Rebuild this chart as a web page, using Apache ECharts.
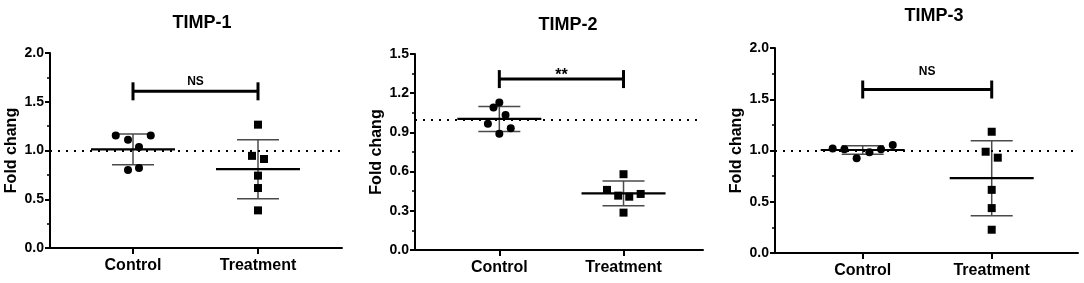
<!DOCTYPE html>
<html>
<head>
<meta charset="utf-8">
<script src="https://cdn.jsdelivr.net/npm/echarts@6/dist/echarts.min.js"></script>
<style>
  html, body { margin: 0; padding: 0; background: #fff; }
  #chart { width: 1084px; height: 283px; }
</style>
</head>
<body>
<div id="chart"></div>
<script>
// ---- data ----
var groups = ['Control', 'Treatment'];
var titles = ['TIMP-1', 'TIMP-2', 'TIMP-3'];

var timp1Control = [1.155, 1.11, 1.155, 1.035, 0.80, 0.82];
var timp1ControlJitter = [-0.138, -0.04, 0.142, 0.048, -0.04, 0.048];
var timp1Treatment = [1.265, 0.945, 0.913, 0.742, 0.615, 0.386];
var timp1TreatmentJitter = [0, -0.048, 0.048, 0, 0, 0];
var timp1Mean = [1.012, 0.808];
var timp1Sd = [0.158, 0.303];

var timp2Control = [1.129, 1.09, 1.034, 0.966, 0.932, 0.889];
var timp2ControlJitter = [0, -0.047, 0.05, -0.092, 0.092, 0];
var timp2Treatment = [0.58, 0.46, 0.416, 0.408, 0.429, 0.286];
var timp2TreatmentJitter = [0, -0.133, -0.043, 0.046, 0.138, 0];
var timp2Mean = [1.003, 0.434];
var timp2Sd = [0.096, 0.095];

var timp3Control = [1.02, 1.012, 0.924, 0.982, 1.012, 1.053];
var timp3ControlJitter = [-0.233, -0.142, -0.047, 0.052, 0.142, 0.233];
var timp3Treatment = [1.183, 0.988, 0.93, 0.616, 0.438, 0.227];
var timp3TreatmentJitter = [0, -0.047, 0.047, 0, 0, 0];
var timp3Mean = [1.005, 0.73];
var timp3Sd = [0.042, 0.366];

var yMax = [2.0, 1.5, 2.0];
var yStep = [0.5, 0.3, 0.5];
var refLine = 1.0;

// significance bars: [from, to, height, label height]
var sigBars = [[1, 2, 1.607, 1.705], [1, 2, 1.308, 1.337], [1, 2, 1.595, 1.767]];
var sigText = ['NS', '**', 'NS'];

// ---- layout ----
var grids = [
    { left: 50, top: 53, width: 292, height: 195 },
    { left: 415, top: 54, width: 288, height: 196 },
    { left: 775, top: 48, width: 303, height: 205 }
];
var xRange = [[0.336, 2.672], [0.321, 2.64], [0.32, 2.669]];
var titlePos = [[197, 9], [563, 11], [929, 2]];

var FONT = '"Liberation Sans", Arial, sans-serif';

function renderErr(params, api) {
    var c = api.coord([api.value(0), api.value(1)]);
    var hi = api.coord([api.value(0), api.value(1) + api.value(2)]);
    var lo = api.coord([api.value(0), api.value(1) - api.value(2)]);
    var sdStyle = { stroke: '#4a4a4a', lineWidth: 1.5 };
    return {
        type: 'group',
        children: [
            { type: 'line', shape: { x1: c[0], y1: hi[1], x2: c[0], y2: lo[1] }, style: sdStyle },
            { type: 'line', shape: { x1: c[0] - 21, y1: hi[1], x2: c[0] + 21, y2: hi[1] }, style: sdStyle },
            { type: 'line', shape: { x1: c[0] - 21, y1: lo[1], x2: c[0] + 21, y2: lo[1] }, style: sdStyle },
            { type: 'line', shape: { x1: c[0] - 42, y1: c[1], x2: c[0] + 42, y2: c[1] }, style: { stroke: '#000', lineWidth: 2.2 } }
        ]
    };
}

function renderSig(params, api) {
    var a = api.coord([api.value(0), api.value(2)]);
    var b = api.coord([api.value(1), api.value(2)]);
    var t = api.coord([(api.value(0) + api.value(1)) / 2, api.value(3)]);
    var st = { stroke: '#000', lineWidth: 3 };
    var txt = sigText[params.seriesIndex / 4 | 0];
    return {
        type: 'group',
        children: [
            { type: 'line', shape: { x1: a[0], y1: a[1], x2: b[0], y2: b[1] }, style: st },
            { type: 'line', shape: { x1: a[0], y1: a[1] - 9, x2: a[0], y2: a[1] + 9 }, style: st },
            { type: 'line', shape: { x1: b[0], y1: b[1] - 9, x2: b[0], y2: b[1] + 9 }, style: st },
            { type: 'text', x: t[0], y: t[1], style: {
                text: txt, fill: '#000',
                font: 'bold ' + (txt === '**' ? 16 : 12) + 'px ' + FONT,
                align: 'center', verticalAlign: 'middle' } }
        ]
    };
}

function pts(vals, jit, g) {
    return vals.map(function (v, i) { return [g + jit[i], v]; });
}

var panels = [
    [timp1Control, timp1ControlJitter, timp1Treatment, timp1TreatmentJitter, timp1Mean, timp1Sd],
    [timp2Control, timp2ControlJitter, timp2Treatment, timp2TreatmentJitter, timp2Mean, timp2Sd],
    [timp3Control, timp3ControlJitter, timp3Treatment, timp3TreatmentJitter, timp3Mean, timp3Sd]
];

var option = {
    animation: false,
    backgroundColor: '#fff',
    title: [], grid: [], xAxis: [], yAxis: [], series: []
};

panels.forEach(function (p, i) {
    option.title.push({
        text: titles[i], left: titlePos[i][0], top: titlePos[i][1], textAlign: 'center',
        textStyle: { fontFamily: FONT, fontWeight: 'bold', fontSize: 18, color: '#000' }
    });
    option.grid.push(grids[i]);
    option.xAxis.push({
        type: 'value', gridIndex: i, min: xRange[i][0], max: xRange[i][1],
        splitLine: { show: false },
        axisLine: { lineStyle: { color: '#000', width: 2 } },
        axisTick: { customValues: [1, 2], length: 6, lineStyle: { color: '#000', width: 2 } },
        axisLabel: {
            customValues: [1, 2], margin: 10, color: '#000',
            fontFamily: FONT, fontWeight: 'bold', fontSize: 16,
            formatter: function (v) { return groups[Math.round(v) - 1]; }
        }
    });
    option.yAxis.push({
        type: 'value', gridIndex: i, min: 0, max: yMax[i], interval: yStep[i],
        name: 'Fold chang', nameLocation: 'middle', nameGap: 30,
        nameTextStyle: { fontFamily: FONT, fontWeight: 'bold', fontSize: 16, color: '#000' },
        splitLine: { show: false },
        axisLine: { show: true, lineStyle: { color: '#000', width: 2 } },
        axisTick: { show: true, length: 5, lineStyle: { color: '#000', width: 2 } },
        minorTick: { show: true, splitNumber: 2, length: 3, lineStyle: { color: '#000', width: 1.5 } },
        axisLabel: {
            margin: 6, color: '#000', fontFamily: FONT, fontWeight: 'bold', fontSize: 14,
            formatter: function (v) { return v.toFixed(1); }
        }
    });
    option.series.push({
        type: 'scatter', xAxisIndex: i, yAxisIndex: i, symbol: 'circle', symbolSize: 8,
        itemStyle: { color: '#000', opacity: 1 }, z: 3,
        data: pts(p[0], p[1], 1),
        markLine: {
            silent: true, symbol: 'none', label: { show: false },
            lineStyle: { color: '#000', type: [2, 6], width: 2 },
            data: [{ yAxis: refLine }]
        }
    });
    option.series.push({
        type: 'scatter', xAxisIndex: i, yAxisIndex: i, symbol: 'rect', symbolSize: 8,
        itemStyle: { color: '#000', opacity: 1 }, z: 3,
        data: pts(p[2], p[3], 2)
    });
    option.series.push({
        type: 'custom', xAxisIndex: i, yAxisIndex: i, renderItem: renderErr, z: 2,
        data: [[1, p[4][0], p[5][0]], [2, p[4][1], p[5][1]]]
    });
    option.series.push({
        type: 'custom', xAxisIndex: i, yAxisIndex: i, renderItem: renderSig, z: 2,
        data: [sigBars[i]]
    });
});

var chart = echarts.init(document.getElementById('chart'));
chart.setOption(option);
</script>
</body>
</html>
